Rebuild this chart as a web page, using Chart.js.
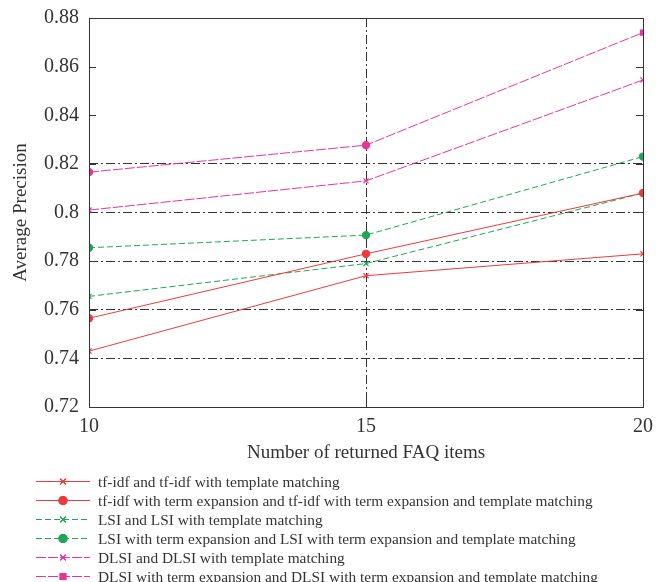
<!DOCTYPE html>
<html>
<head>
<meta charset="utf-8">
<script src="https://cdn.jsdelivr.net/npm/chart.js@4"></script>
<style>
  body { margin: 0; background: #fff; }
  #wrap { position: relative; width: 657px; height: 582px; }
  #box { position: absolute; left: 0; top: 0; width: 657px; height: 475px; }
  #legend { position: absolute; left: 36px; top: 472px; font-family: "Liberation Serif", serif; font-size: 15.35px; color: #333; }
  .row { height: 19px; display: flex; align-items: center; white-space: nowrap; }
  .row canvas { margin-right: 8px; }
</style>
</head>
<body>
<div id="wrap">
  <div id="box"><canvas id="c"></canvas></div>
  <div id="legend"></div>
</div>
<script>
const xValues = [10, 15, 20];
const yTicks = [0.72, 0.74, 0.76, 0.78, 0.8, 0.82, 0.84, 0.86, 0.88];

const seriesNames = [
  'tf-idf and tf-idf with template matching',
  'tf-idf with term expansion and tf-idf with term expansion and template matching',
  'LSI and LSI with template matching',
  'LSI with term expansion and LSI with term expansion and template matching',
  'DLSI and DLSI with template matching',
  'DLSI with term expansion and DLSI with term expansion and template matching'
];
const tfidf = [0.743, 0.774, 0.783];
const tfidfExp = [0.7565, 0.783, 0.808];
const lsi = [0.7655, 0.779, 0.808];
const lsiExp = [0.7855, 0.7907, 0.823];
const dlsi = [0.801, 0.813, 0.8545];
const dlsiExp = [0.8166, 0.8277, 0.874];

const red = 'rgb(238,58,58)';
const green = 'rgb(28,168,88)';
const pink = 'rgb(236,52,150)';

function pts(vals) {
  return vals.map((v, i) => ({x: xValues[i], y: v}));
}

const styles = [
  {color: red, dash: [], marker: 'crossRot'},
  {color: red, dash: [], marker: 'circle'},
  {color: green, dash: [6, 3], marker: 'crossRot'},
  {color: green, dash: [6, 3], marker: 'circle'},
  {color: pink, dash: [10, 2], marker: 'crossRot'},
  {color: pink, dash: [10, 2], marker: ['circle', 'circle', 'rect']}
];
const allValues = [tfidf, tfidfExp, lsi, lsiExp, dlsi, dlsiExp];

const datasets = allValues.map((vals, i) => ({
  label: seriesNames[i],
  data: pts(vals),
  borderColor: styles[i].color,
  backgroundColor: styles[i].color,
  borderWidth: 1,
  borderDash: styles[i].dash,
  pointStyle: styles[i].marker,
  pointRadius: 3.6,
  pointBorderWidth: 1.2,
  tension: 0
}));

// frame + inward tick marks
const framePlugin = {
  id: 'frame',
  afterDatasetsDraw(chart) {
    const {ctx, chartArea: a, scales} = chart;
    ctx.save();
    ctx.strokeStyle = '#333';
    ctx.lineWidth = 1;
    ctx.setLineDash([]);
    ctx.strokeRect(a.left + 0.5, a.top + 0.5, a.right - a.left, a.bottom - a.top);
    ctx.beginPath();
    yTicks.forEach(t => {
      const y = Math.round(scales.y.getPixelForValue(t)) + 0.5;
      ctx.moveTo(a.left, y); ctx.lineTo(a.left + 7, y);
      ctx.moveTo(a.right, y); ctx.lineTo(a.right - 7, y);
    });
    xValues.forEach(t => {
      const x = Math.round(scales.x.getPixelForValue(t)) + 0.5;
      ctx.moveTo(x, a.bottom); ctx.lineTo(x, a.bottom - 7);
      ctx.moveTo(x, a.top); ctx.lineTo(x, a.top + 7);
    });
    ctx.stroke();
    ctx.restore();
  }
};

const font = {family: '"Liberation Serif", serif'};

const chart = new Chart(document.getElementById('c'), {
  type: 'line',
  data: {datasets: datasets},
  options: {
    responsive: true,
    maintainAspectRatio: false,
    animation: false,
    layout: {padding: {left: 4, right: 14, top: 18, bottom: 0}},
    plugins: {legend: {display: false}, tooltip: {enabled: false}},
    scales: {
      x: {
        type: 'linear', min: 10, max: 20,
        afterBuildTicks: s => { s.ticks = xValues.map(v => ({value: v})); },
        afterFit: s => { s.height = 68; s.paddingLeft = 0; s.paddingRight = 0; },
        ticks: {color: '#333', padding: 8, font: {...font, size: 20}},
        grid: {
          drawTicks: false,
          color: c => (c.tick && c.tick.value === 15) ? '#333' : 'transparent',
          lineWidth: 1
        },
        border: {display: false, dash: [9, 3, 2, 3]},
        title: {display: true, text: 'Number of returned FAQ items', color: '#333', font: {...font, size: 19}, padding: {top: 2, bottom: 11}}
      },
      y: {
        min: 0.72, max: 0.88,
        afterBuildTicks: s => { s.ticks = yTicks.map(v => ({value: v})); },
        afterFit: s => { s.width = 85; s.paddingTop = 0; s.paddingBottom = 0; },
        ticks: {color: '#333', padding: 10, font: {...font, size: 20}, callback: v => String(+v.toFixed(2))},
        grid: {
          drawTicks: false,
          color: c => (c.tick && c.tick.value > 0.735 && c.tick.value < 0.825) ? '#333' : 'transparent',
          lineWidth: 1
        },
        border: {display: false, dash: [9, 3, 2, 3]},
        title: {display: true, text: 'Average Precision', color: '#333', font: {...font, size: 19}, padding: {top: 6, bottom: 2}}
      }
    }
  },
  plugins: [framePlugin]
});

// html legend
const legend = document.getElementById('legend');
datasets.forEach((d, i) => {
  const row = document.createElement('div');
  row.className = 'row';
  const cv = document.createElement('canvas');
  cv.width = 54; cv.height = 19;
  const g = cv.getContext('2d');
  g.strokeStyle = d.borderColor;
  g.fillStyle = d.borderColor;
  g.lineWidth = 1.2;
  g.setLineDash(d.borderDash);
  g.beginPath(); g.moveTo(0, 9.5); g.lineTo(54, 9.5); g.stroke();
  g.setLineDash([]);
  const ps = Array.isArray(d.pointStyle) ? d.pointStyle[2] : d.pointStyle;
  Chart.helpers.drawPoint(g, {pointStyle: ps, radius: 4, borderWidth: 1.2}, 27, 9.5);
  if (ps !== 'crossRot') g.fill();
  g.stroke();
  const sp = document.createElement('span');
  sp.textContent = d.label;
  row.appendChild(cv);
  row.appendChild(sp);
  legend.appendChild(row);
});
</script>
</body>
</html>
